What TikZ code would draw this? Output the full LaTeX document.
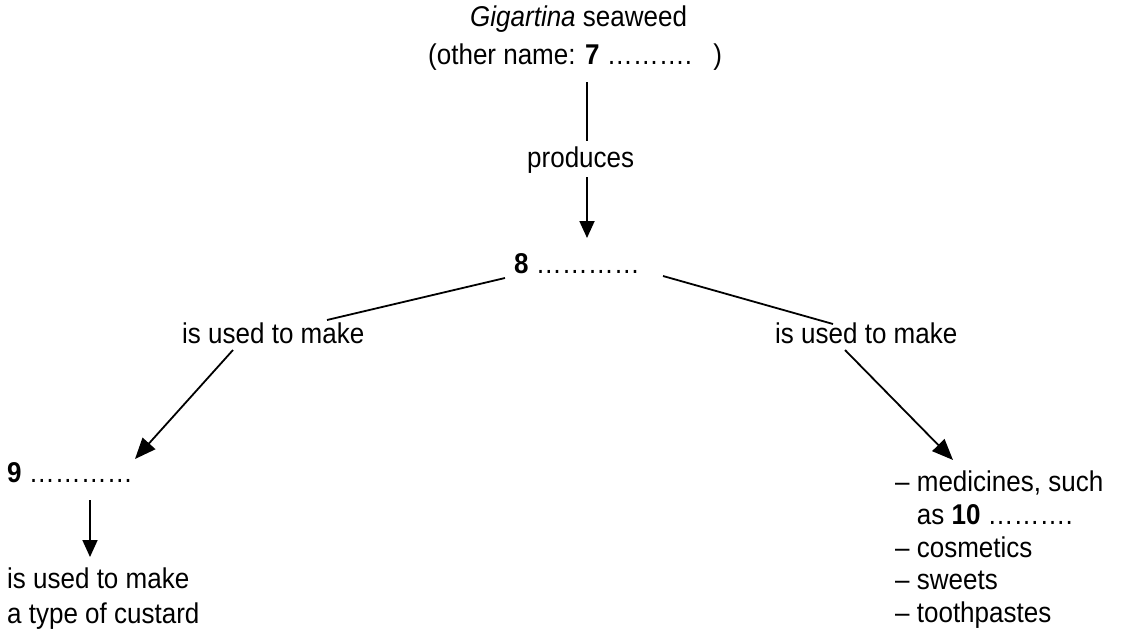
\documentclass[tikz,border=0pt]{standalone}
\usepackage{fontspec}
\setmainfont{Liberation Sans}
\usetikzlibrary{arrows.meta}
\newcommand\tallt[1]{\scalebox{1}[1.1]{#1}}
\tikzset{
  txt/.style={inner sep=0pt, anchor=base west, font=\fontsize{26}{32}\selectfont},
  conn/.style={line width=1.8pt, black},
  arr/.style={conn, -{Triangle[length=17pt,width=15pt]}},
  darr/.style={conn, -{Triangle[length=21pt,width=17pt]}}
}
\begin{document}
\begin{tikzpicture}[x=1pt,y=-1pt]
\useasboundingbox[fill=white] (0,0) rectangle (1124,634);
% nodes
\node[txt] (sw1) at (470,27) {\tallt{\textit{Gigartina} seaweed}};
\node[txt] (sw2) at (428,65) {\tallt{(other name: \textbf{7} ………. \hspace{0.45em})}};
\node[txt] (prod) at (527,167) {\tallt{produces}};
\node[txt] (eight) at (514,273) {\tallt{\textbf{8} …………}};
\node[txt] (lab1) at (182,343) {\tallt{is used to make}};
\node[txt] (lab2) at (775,343) {\tallt{is used to make}};
\node[txt] (nine) at (7,482) {\tallt{\textbf{9} …………}};
\node[txt] (use1) at (7,588) {\tallt{is used to make}};
\node[txt] (use2) at (7,623) {\tallt{a type of custard}};
\node[txt] (med) at (895,491) {\tallt{– medicines, such}};
\node[txt] (as10) at (895,524) {\tallt{\phantom{– }as \textbf{10} ……….}};
\node[txt] (cos) at (895,557) {\tallt{– cosmetics}};
\node[txt] (swe) at (895,589) {\tallt{– sweets}};
\node[txt] (too) at (895,622) {\tallt{– toothpastes}};
% connectors
\draw[conn] ([shift={(159,17)}]sw2.base west) -- ([shift={(60,-26)}]prod.base west);
\draw[arr] ([shift={(60,10)}]prod.base west) -- ([shift={(73,-35)}]eight.base west);
\draw[conn] ([shift={(-9,5)}]eight.base west) -- ([shift={(145,-23)}]lab1.base west);
\draw[conn] ([shift={(149,3)}]eight.base west) -- ([shift={(58,-19)}]lab2.base west);
\draw[darr] ([shift={(51,7)}]lab1.base west) -- ([shift={(128,-23)}]nine.base west);
\draw[darr] ([shift={(70,7)}]lab2.base west) -- ([shift={(58,-31)}]med.base west);
\draw[arr] ([shift={(83,18)}]nine.base west) -- ([shift={(83,-31)}]use1.base west);
\end{tikzpicture}
\end{document}
